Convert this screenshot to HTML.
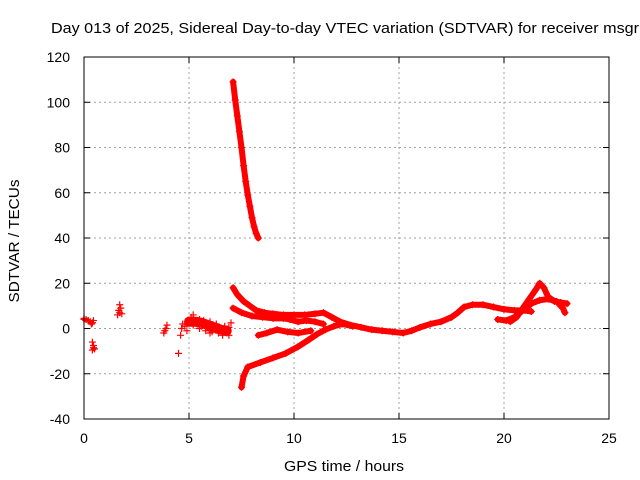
<!DOCTYPE html>
<html><head><meta charset="utf-8"><style>
body{margin:0;background:#fff}
svg{display:block;font-family:"Liberation Sans",sans-serif}
</style></head><body>
<svg id="chart" width="640" height="480" viewBox="0 0 640 480">
<rect x="0" y="0" width="640" height="480" fill="#fff"/>
<text x="51" y="33" font-size="15" textLength="588" lengthAdjust="spacingAndGlyphs" fill="#000">Day 013 of 2025, Sidereal Day-to-day VTEC variation (SDTVAR) for receiver msgr</text>
<g id="grid"></g>
<g id="ticks"></g>
<g id="marks"></g>
<rect x="84" y="57" width="525" height="362" fill="none" stroke="#000" stroke-width="1"/>
<text x="344" y="471" font-size="15" textLength="120" lengthAdjust="spacingAndGlyphs" text-anchor="middle">GPS time / hours</text>
<text transform="translate(19,241) rotate(-90)" font-size="15" textLength="123" lengthAdjust="spacingAndGlyphs" text-anchor="middle">SDTVAR / TECUs</text>
</svg>
<script>
const xTicks=[0,5,10,15,20,25];
const yTicks=[-40,-20,0,20,40,60,80,100,120];
// dense curved tracks (hours, TECU)
const trackSteep=[[7.1,109],[7.2,101],[7.3,94],[7.4,87],[7.5,80],[7.6,72],[7.7,65],[7.8,59],[7.9,54],[8.0,49],[8.1,45],[8.2,42],[8.3,40]];
const trackUpper=[[7.1,18],[7.3,15],[7.6,12],[7.9,10],[8.2,8],[8.6,7],[9.0,6.5],[9.5,6],[10,6],[10.5,6],[11,6.5],[11.4,7],[11.8,5],[12.2,3],[12.7,1.5],[13.2,0.5],[13.7,-0.5],[14.2,-1],[14.7,-1.5],[15.2,-2],[15.6,-1],[16,0.5],[16.5,2],[17,3],[17.5,5],[17.8,7],[18.1,9.5],[18.5,10.5],[19,10.5],[19.5,9.5],[20,8.5],[20.5,8],[21,8],[21.3,7.5]];
const trackMiddle=[[7.1,9],[7.5,7],[8.0,5.5],[8.5,5],[9.0,4.5],[9.5,4.5],[9.8,4],[10.2,3],[10.6,3.5],[11.0,3],[11.4,2]];
const trackLower=[[7.5,-26],[7.6,-21],[7.8,-17],[8.4,-15],[9.0,-13],[9.6,-11],[10.2,-8],[10.7,-5],[11.1,-2.5],[11.5,-0.5],[11.9,1],[12.3,2],[12.8,1]];
const trackLoop=[[8.3,-3],[8.7,-2],[9.2,-0.5],[9.7,-1.5],[10.2,-2],[10.8,-1]];
const trackSpike=[[20.3,3],[20.6,5],[20.9,9],[21.2,13],[21.5,17],[21.7,20],[21.9,18],[22.1,14],[22.4,12],[22.7,11.5],[23.0,11]];
const trackLowerRight=[[19.7,4],[20.1,3.5],[20.5,5],[20.9,8],[21.3,11],[21.7,12.5],[22.1,13],[22.5,12],[22.8,9],[22.9,7]];
const trackBlob=[[5.0,3],[5.3,3],[5.6,2.5],[5.9,1.5],[6.2,0.5],[6.5,-0.5],[6.8,-1]];
const trackStart=[[0.0,4],[0.2,3.5],[0.4,2.5]];
// scattered clusters (hours, TECU)
const scatterPts=[[0.0,4.5],[0.1,4],[0.2,3.5],[0.3,3],[0.35,2],[0.4,2.5],[0.45,3.5],[0.4,-6],[0.45,-7.5],[0.5,-9],[0.45,-8.5],[0.4,-9.5],
[1.6,6],[1.7,7],[1.75,9],[1.7,10.5],[1.8,6.5],[1.65,8],[3.8,-2],[3.85,-1],[3.9,0],[3.95,1.5],[4.5,-11],[4.6,-3],[4.65,0],[4.7,2],[4.8,1],[4.9,-1],[4.95,2.5],
[5.1,5],[5.2,6],[5.3,3],[5.4,2],[5.5,4],[5.6,1],[5.7,3.5],[5.8,-1],[5.9,0.5],[6.0,3],[6.1,-1.5],[6.2,1],[6.3,2],[6.4,-2],[6.5,0],[6.6,-1],[6.7,1],[6.8,-2],[6.9,0.5],[7.0,2.5],[5.5,0],[6.0,-2],[5.2,1.5],[6.6,-3],[6.9,-3]];
const X=t=>84+t*21, Y=v=>328.5-v*2.2625;
const NS='http://www.w3.org/2000/svg';
const grid=document.getElementById('grid'),ticks=document.getElementById('ticks'),marks=document.getElementById('marks');
function mk(tag,attrs,parent){const e=document.createElementNS(NS,tag);for(const k in attrs)e.setAttribute(k,attrs[k]);parent.appendChild(e);return e;}
xTicks.forEach(t=>{const x=X(t);
 if(t>0&&t<25){const g=mk('line',{x1:x,y1:57,x2:x,y2:419,stroke:'#a0a0a0','stroke-dasharray':'2,3'},grid);
 
 }
 mk('line',{x1:x,y1:419,x2:x,y2:413,stroke:'#000'},ticks);mk('line',{x1:x,y1:57,x2:x,y2:63,stroke:'#000'},ticks);
 const tx=mk('text',{x:x,y:443,'font-size':14,'text-anchor':'middle'},ticks);tx.textContent=t;
 
 });
yTicks.forEach(v=>{const y=Y(v);
 if(v>-40&&v<120){const g=mk('line',{x1:84,y1:y,x2:609,y2:y,stroke:'#a0a0a0','stroke-dasharray':'2,3'},grid);
 
 }
 mk('line',{x1:84,y1:y,x2:90,y2:y,stroke:'#000'},ticks);mk('line',{x1:609,y1:y,x2:603,y2:y,stroke:'#000'},ticks);
 const tx=mk('text',{x:70,y:y+5,'font-size':14,'text-anchor':'end'},ticks);tx.textContent=v;
 
 });
function plus(t,v){const x=X(t),y=Y(v);const p=mk('path',{d:`M${x-3.5},${y}h7M${x},${y-3.5}v7`,stroke:'#f00','stroke-width':1.2,fill:'none'},marks);
 
 }
[trackSteep,trackUpper,trackMiddle,trackLower,trackLoop,trackSpike,trackLowerRight,trackBlob,trackStart].forEach((tr,i)=>{
 const w=i===0?6:(i===7?10:(i===8?4:6));
 const pl=mk('polyline',{points:tr.map(p=>X(p[0])+','+Y(p[1])).join(' '),fill:'none',stroke:'#f00','stroke-width':w,'stroke-linejoin':'round','stroke-linecap':'round'},marks);
 
 
 tr.forEach(p=>plus(p[0],p[1]));});
scatterPts.forEach(p=>plus(p[0],p[1]));
</script>
</body></html>
